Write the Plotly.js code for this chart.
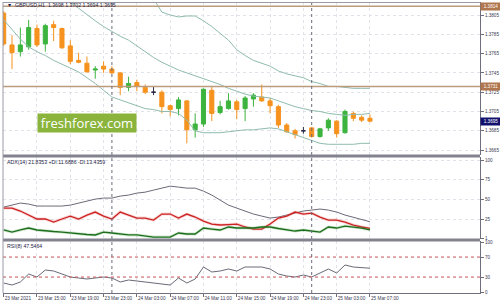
<!DOCTYPE html>
<html>
<head>
<meta charset="utf-8">
<script src="https://cdn.plot.ly/plotly-3.0.1.min.js"></script>
<style>
html,body{margin:0;padding:0;background:#fff;}
#chart{width:500px;height:305px;}
</style>
</head>
<body>
<div id="chart"></div>
<script>
// ---- data ----
const times = [
 '2021-03-23 11:00','2021-03-23 12:00','2021-03-23 13:00','2021-03-23 14:00','2021-03-23 15:00',
 '2021-03-23 16:00','2021-03-23 17:00','2021-03-23 18:00','2021-03-23 19:00','2021-03-23 20:00',
 '2021-03-23 21:00','2021-03-23 22:00','2021-03-23 23:00','2021-03-24 00:00','2021-03-24 01:00',
 '2021-03-24 02:00','2021-03-24 03:00','2021-03-24 04:00','2021-03-24 05:00','2021-03-24 06:00',
 '2021-03-24 07:00','2021-03-24 08:00','2021-03-24 09:00','2021-03-24 10:00','2021-03-24 11:00',
 '2021-03-24 12:00','2021-03-24 13:00','2021-03-24 14:00','2021-03-24 15:00','2021-03-24 16:00',
 '2021-03-24 17:00','2021-03-24 18:00','2021-03-24 19:00','2021-03-24 20:00','2021-03-24 21:00',
 '2021-03-24 22:00','2021-03-24 23:00','2021-03-25 00:00','2021-03-25 01:00','2021-03-25 02:00',
 '2021-03-25 03:00','2021-03-25 04:00','2021-03-25 05:00','2021-03-25 06:00','2021-03-25 07:00'
];
const openP  = [1.3807,1.3774,1.3767,1.3772,1.3791,1.3775,1.3795,1.3791,1.3773,1.3758,
                1.3755,1.3748,1.3752,1.3749,1.3745,1.3730,1.3735,1.3730,1.3725,1.3725,
                1.3711,1.3708,1.3716,1.3686,1.3692,1.3727,1.3704,1.3708,1.3715,1.3708,
                1.3718,1.3720,1.3716,1.3710,1.3691,1.3685,1.3685,1.3688,1.3679,1.3688,
                1.3695,1.3683,1.3703,1.3699,1.3698];
const highP  = [1.3809,1.3784,1.3792,1.3800,1.3795,1.3796,1.3799,1.3792,1.3779,1.3766,
                1.3762,1.3752,1.3757,1.3752,1.3746,1.3741,1.3738,1.3733,1.3731,1.3727,
                1.3712,1.3720,1.3717,1.3703,1.3729,1.3731,1.3716,1.3724,1.3717,1.3721,
                1.3724,1.3733,1.3719,1.3712,1.3693,1.3687,1.3689,1.3689,1.3688,1.3698,
                1.3696,1.3707,1.3705,1.3701,1.3702];
const lowP   = [1.3773,1.3749,1.3762,1.3769,1.3772,1.3767,1.3778,1.3770,1.3754,1.3755,
                1.3746,1.3739,1.3745,1.3744,1.3722,1.3726,1.3726,1.3723,1.3722,1.3703,
                1.3700,1.3701,1.3672,1.3678,1.3689,1.3695,1.3702,1.3707,1.3697,1.3695,
                1.3710,1.3715,1.3703,1.3688,1.3683,1.3677,1.3682,1.3678,1.3678,1.3685,
                1.3678,1.3682,1.3695,1.3694,1.3694];
const closeP = [1.3775,1.3766,1.3774,1.3792,1.3774,1.3794,1.3792,1.3771,1.3757,1.3756,
                1.3746,1.3749,1.3749,1.3745,1.3730,1.3734,1.3731,1.3725,1.3725,1.3710,
                1.3707,1.3717,1.3686,1.3692,1.3728,1.3703,1.3710,1.3716,1.3707,1.3719,
                1.3722,1.3716,1.3711,1.3691,1.3684,1.3681,1.3685,1.3679,1.3687,1.3696,
                1.3682,1.3705,1.3698,1.3696,1.3695];
const bbUpper  = [1.3838,1.3840,1.3841,1.3842,1.3842,1.3843,1.3843,1.3842,1.3840,1.3838,
                  1.3836,1.3835,1.3833,1.3832,1.3830,1.3829,1.3828,1.3826,1.3822,1.3808,
                  1.3805,1.3803,1.3804,1.3804,1.3799,1.3793,1.3786,1.3779,1.3769,1.3763,
                  1.3758,1.3755,1.3752,1.3747,1.3744,1.3742,1.3740,1.3736,1.3734,1.3731,
                  1.3731,1.3730,1.3729,1.3729,1.3729];
const bbMiddle = [1.3836,1.3834,1.3832,1.3830,1.3828,1.3826,1.3824,1.3821,1.3818,1.3812,
                  1.3805,1.3799,1.3793,1.3788,1.3783,1.3779,1.3773,1.3767,1.3761,1.3756,
                  1.3752,1.3748,1.3745,1.3742,1.3739,1.3736,1.3733,1.3729,1.3726,1.3723,
                  1.3721,1.3720,1.3719,1.3716,1.3713,1.3710,1.3708,1.3706,1.3705,1.3703,
                  1.3702,1.3701,1.3702,1.3702,1.3703];
const bbLower  = [1.3800,1.3790,1.3780,1.3772,1.3767,1.3763,1.3758,1.3754,1.3750,1.3746,
                  1.3740,1.3734,1.3727,1.3720,1.3717,1.3714,1.3711,1.3708,1.3707,1.3705,
                  1.3705,1.3703,1.3696,1.3685,1.3683,1.3683,1.3683,1.3684,1.3685,1.3686,
                  1.3686,1.3687,1.3688,1.3687,1.3684,1.3681,1.3678,1.3675,1.3672,1.3671,
                  1.3671,1.3671,1.3671,1.3672,1.3672];
const adx     = [40.4,42.9,45.5,44.2,41.7,41.7,41.7,41.7,42.9,45.5,
                 48.0,50.5,51.8,51.8,54.3,55.6,58.1,59.3,61.9,64.4,
                 66.9,65.7,64.4,64.4,60.6,55.6,49.2,42.9,39.1,35.4,
                 31.6,29.0,26.5,27.8,30.3,32.8,35.4,36.6,37.9,36.6,
                 34.1,30.3,27.8,25.3,21.8353];
const plusDI  = [11.4,8.8,11.4,13.9,11.4,10.1,9.5,8.8,7.6,6.3,
                 5.7,5.1,8.8,7.6,6.3,5.1,5.1,3.8,2.5,2.5,
                 2.5,7.6,6.3,6.3,13.9,12.6,11.4,15.2,13.9,13.9,
                 13.9,15.2,15.2,13.3,11.4,10.1,11.4,10.1,8.8,15.2,
                 13.9,16.4,15.2,13.9,11.6886];
const minusDI = [39.1,39.1,35.4,30.3,25.3,25.3,21.5,25.3,29.0,25.3,
                 30.3,34.1,29.0,25.3,34.1,30.3,26.5,26.5,24.0,31.6,
                 31.6,26.5,31.6,27.8,22.7,18.9,17.7,18.3,18.9,15.2,
                 12.6,12.6,18.9,26.5,29.0,34.1,31.6,32.8,27.8,24.0,
                 24.0,21.5,17.7,15.2,13.4359];
const rsi     = [18,14,20,36,30,44,42,36,30,28,
                 26,28,30,28,20,24,22,20,18,16,
                 14,28,18,26,50,40,42,46,42,50,
                 50,50,46,36,32,30,34,30,38,46,
                 38,54,50,49,47.5464];
const priceTicks = [1.3805,1.3785,1.3765,1.3745,1.3725,1.3705,1.3685,1.3665];
const adxTicks = [1,25,50,75,100];
const rsiTicks = [0,30,70,100];
const rsiLevels = [70,30];
const priceLevels = [1.3814,1.3731];
const timeTicks = ['2021-03-23 11:00','2021-03-23 15:00','2021-03-23 19:00','2021-03-23 23:00',
                   '2021-03-24 03:00','2021-03-24 07:00','2021-03-24 11:00','2021-03-24 15:00',
                   '2021-03-24 19:00','2021-03-24 23:00','2021-03-25 03:00','2021-03-25 07:00'];
const timeTickLabels = ['23 Mar 2021','23 Mar 15:00','23 Mar 19:00','23 Mar 23:00',
                        '24 Mar 03:00','24 Mar 07:00','24 Mar 11:00','24 Mar 15:00',
                        '24 Mar 19:00','24 Mar 23:00','25 Mar 03:00','25 Mar 07:00'];
const daySeparators = ['2021-03-24 00:00','2021-03-25 00:00'];
const symbolTitle = 'GBPUSD,H1';

// ---- build traces ----
const isDoji = openP.map((o,i)=>o===closeP[i]);
function pick(arr, wantDoji){ return arr.map((v,i)=> isDoji[i]===wantDoji ? v : null); }

const UP='#3cb43e', DN='#f6921e', BB='#8fbcae', AX='#6e6e7c', GRID='#e2e2ea', TXT='#3a3a52';
const F = 'Liberation Sans, Arial, sans-serif';

const traces = [
 {type:'scatter', mode:'lines', x:times, y:bbUpper, line:{color:BB,width:1}, hoverinfo:'skip', xaxis:'x', yaxis:'y'},
 {type:'scatter', mode:'lines', x:times, y:bbMiddle, line:{color:BB,width:1}, hoverinfo:'skip', xaxis:'x', yaxis:'y'},
 {type:'scatter', mode:'lines', x:times, y:bbLower, line:{color:BB,width:1}, hoverinfo:'skip', xaxis:'x', yaxis:'y'},
 {type:'candlestick', x:times, open:pick(openP,false), high:pick(highP,false), low:pick(lowP,false), close:pick(closeP,false),
  increasing:{line:{color:UP,width:1}, fillcolor:UP}, decreasing:{line:{color:DN,width:1}, fillcolor:DN},
  hoverinfo:'skip', xaxis:'x', yaxis:'y'},
 {type:'candlestick', x:times, open:pick(openP,true), high:pick(highP,true), low:pick(lowP,true), close:pick(closeP,true),
  increasing:{line:{color:'#2a2a44',width:1}, fillcolor:'#2a2a44'}, decreasing:{line:{color:'#2a2a44',width:1}, fillcolor:'#2a2a44'},
  hoverinfo:'skip', xaxis:'x', yaxis:'y'},
 {type:'scatter', mode:'lines', x:times, y:adx, line:{color:'#6a6a78',width:1}, hoverinfo:'skip', xaxis:'x', yaxis:'y2'},
 {type:'scatter', mode:'lines', x:times, y:minusDI, line:{color:'rgba(230,90,90,0.25)',width:3}, hoverinfo:'skip', xaxis:'x', yaxis:'y2'},
 {type:'scatter', mode:'lines', x:times, y:minusDI, line:{color:'#cc2222',width:1.3}, hoverinfo:'skip', xaxis:'x', yaxis:'y2'},
 {type:'scatter', mode:'lines', x:times, y:plusDI, line:{color:'rgba(70,160,70,0.25)',width:3}, hoverinfo:'skip', xaxis:'x', yaxis:'y2'},
 {type:'scatter', mode:'lines', x:times, y:plusDI, line:{color:'#1c6e1c',width:1.3}, hoverinfo:'skip', xaxis:'x', yaxis:'y2'},
 {type:'scatter', mode:'lines', x:times, y:rsi, line:{color:'#6a6a78',width:1}, hoverinfo:'skip', xaxis:'x', yaxis:'y3'}
];

// pixel helpers for paper coords (plot area y: 2..293)
const PT=2, PB=293, PH=PB-PT;
const py = p => (PB-p)/PH;

const shapes = [];
priceLevels.forEach(v=>shapes.push({type:'line', xref:'paper', x0:0, x1:1, yref:'y', y0:v, y1:v, line:{color:'#bc9c7e',width:1.5}}));
rsiLevels.forEach(v=>shapes.push({type:'line', xref:'paper', x0:0, x1:1, yref:'y3', y0:v, y1:v, line:{color:'#d06060',width:1,dash:'dot'}}));
daySeparators.forEach(t=>shapes.push({type:'line', xref:'x', x0:t, x1:t, yref:'paper', y0:0, y1:1, line:{color:'#6a6a7a',width:1,dash:'dot'}}));
// pane separators and frame
[156,240].forEach(p=>shapes.push({type:'line', xref:'paper', x0:0, x1:1, yref:'paper', y0:py(p), y1:py(p), line:{color:'#83838f',width:3}}));
shapes.push({type:'line', xref:'paper', x0:0, x1:1, yref:'paper', y0:py(2.5), y1:py(2.5), line:{color:'#9a9aa6',width:1}});
shapes.push({type:'line', xref:'paper', x0:0, x1:0, yref:'paper', y0:0, y1:1, line:{color:'#9a9aa6',width:1}});

const lastClose = closeP[closeP.length-1];
const lastOpen = openP[openP.length-1];
const lastHigh = highP[highP.length-1];
const lastLow = lowP[lowP.length-1];

const annotations = [
 {xref:'paper', yref:'paper', x:0.004, y:py(5.5), xanchor:'left', yanchor:'middle', showarrow:false,
  text:'\u25BC  '+symbolTitle+'  '+lastOpen.toFixed(4)+' '+lastHigh.toFixed(4)+' '+lastLow.toFixed(4)+' '+lastClose.toFixed(4),
  font:{family:F,size:5.2,color:'#1c1c44'}},
 {xref:'paper', yref:'paper', x:0.004, y:py(161.5), xanchor:'left', yanchor:'middle', showarrow:false,
  text:'ADX(14) '+adx[adx.length-1].toFixed(4)+' +DI:'+plusDI[plusDI.length-1].toFixed(4)+' -DI:'+minusDI[minusDI.length-1].toFixed(4),
  font:{family:F,size:5.2,color:'#1c1c44'}},
 {xref:'paper', yref:'paper', x:0.004, y:py(245.5), xanchor:'left', yanchor:'middle', showarrow:false,
  text:'RSI(8) '+rsi[rsi.length-1].toFixed(4),
  font:{family:F,size:5.2,color:'#1c1c44'}},
 {xref:'paper', yref:'paper', x:(87-3)/477, y:py(123), xanchor:'center', yanchor:'middle', showarrow:false,
  text:'freshforex.com', bgcolor:'#8ab43c', width:96, height:16, borderpad:1,
  font:{family:'Open Sans, sans-serif',size:13,color:'#ffffff'}}
];
priceLevels.forEach(v=>annotations.push({xref:'paper', yref:'y', x:1, y:v, xanchor:'left', yanchor:'middle', showarrow:false,
  text:v.toFixed(4), bgcolor:'#b0764e', borderpad:1, width:18, font:{family:F,size:4.6,color:'#ffffff'}}));
annotations.push({xref:'paper', yref:'y', x:1, y:lastClose, xanchor:'left', yanchor:'middle', showarrow:false,
  text:lastClose.toFixed(4), bgcolor:'#12126e', borderpad:1, width:18, font:{family:F,size:4.6,color:'#ffffff'}});

const yCommon = {side:'right', showline:true, linecolor:AX, linewidth:1, ticks:'outside', ticklen:3, tickcolor:AX,
  tickfont:{family:F,size:4.6,color:TXT}, showgrid:true, gridcolor:GRID, griddash:'dot', zeroline:false, fixedrange:true};

const layout = {
  width:500, height:305, margin:{l:3, r:20, t:PT, b:305-PB},
  paper_bgcolor:'#ffffff', plot_bgcolor:'#ffffff', showlegend:false,
  xaxis:{type:'date', range:['2021-03-23 10:55','2021-03-25 20:13'], anchor:'y3',
    tickvals:timeTicks, ticktext:timeTickLabels, ticks:'outside', ticklen:3, tickcolor:AX, tickangle:0,
    ticklabelposition:'outside right', tickfont:{family:F,size:4.7,color:TXT},
    showgrid:true, gridcolor:GRID, griddash:'dot', showline:true, linecolor:AX,
    rangeslider:{visible:false}, zeroline:false, fixedrange:true},
  yaxis:Object.assign({}, yCommon, {domain:[py(155),1], range:[1.36599,1.38185], tickvals:priceTicks, ticktext:priceTicks.map(v=>v.toFixed(4))}),
  yaxis2:Object.assign({}, yCommon, {domain:[py(239),py(157)], range:[0,103.8], tickvals:adxTicks}),
  yaxis3:Object.assign({}, yCommon, {domain:[0,py(241)], range:[-2,102], tickvals:rsiTicks}),
  shapes:shapes, annotations:annotations
};

Plotly.newPlot('chart', traces, layout, {staticPlot:true, displayModeBar:false});
</script>
</body>
</html>
